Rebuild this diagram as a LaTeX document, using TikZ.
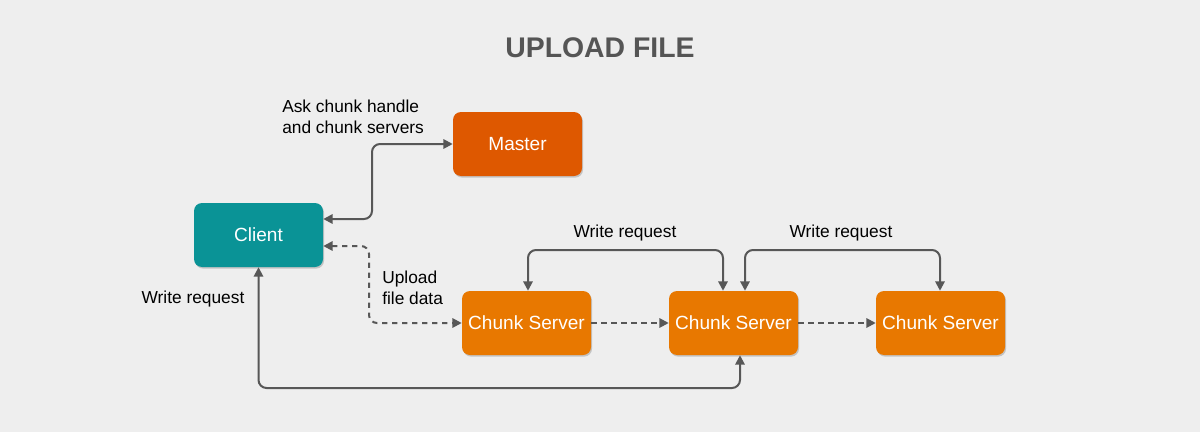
\documentclass[tikz,border=0pt]{standalone}
\usepackage{fontspec}
\setmainfont{Liberation Sans}
\usetikzlibrary{arrows.meta,shadows,positioning}
\definecolor{bg}{HTML}{EEEEEE}
\definecolor{linec}{HTML}{575757}
\definecolor{titlec}{HTML}{555555}
\definecolor{masterc}{HTML}{DE5800}
\definecolor{chunkc}{HTML}{E87800}
\definecolor{clientc}{HTML}{0A9396}
\tikzset{
  box/.style={rounded corners=6pt, minimum width=96.75pt, minimum height=48pt, text=white, font=\fontsize{14.3}{16}\selectfont, inner sep=0pt,
    drop shadow={shadow xshift=0.8pt, shadow yshift=-1.2pt, opacity=0.18, fill=black}},
  conn/.style={draw=linec, line width=1.5pt, rounded corners=6pt, -{Triangle[length=7pt,width=7pt]}},
  both/.style={conn, {Triangle[length=7pt,width=7pt]}-{Triangle[length=7pt,width=7pt]}},
  dconn/.style={conn, dash pattern=on 4pt off 3.5pt},
  lbl/.style={font=\fontsize{13}{15.5}\selectfont, text=black, inner sep=0pt},
}
\begin{document}
\begin{tikzpicture}[x=0.75pt,y=-0.75pt]
\fill[bg] (0,0) rectangle (1200,432);
\useasboundingbox (0,0) rectangle (1200,432);
\node[font=\fontsize{21.3}{24}\selectfont\bfseries, text=titlec] (title) at (600,48) {UPLOAD FILE};
\node[box, fill=masterc] (master) at (517.5,144) {Master};
\node[box, fill=clientc] (client) at (258.5,235) {Client};
\node[box, fill=chunkc] (cs1) at (526.5,323) {Chunk Server};
\node[box, fill=chunkc] (cs2) at (733.5,323) {Chunk Server};
\node[box, fill=chunkc] (cs3) at (940.5,323) {Chunk Server};
% client <-> master
\draw[both] (client.east |- 0,219) -| (372,181) |- (master.west);
% upload file data
\draw[dconn, {Triangle[length=7pt,width=7pt]}-{Triangle[length=7pt,width=7pt]}] (client.east |- 0,246) -| (369,290) |- (cs1.west);
% write request client <-> cs2
\draw[both] (client.south) |- (500,388) -| (cs2.south -| 740,0);
% chain
\draw[dconn] (cs1.east) -- (cs2.west);
\draw[dconn] (cs2.east) -- (cs3.west);
% top loops
\draw[both] (cs1.north -| 528,0) |- (625,250) -| (cs2.north -| 723,0);
\draw[both] (cs2.north -| 745,0) |- (840,250) -| (cs3.north -| 940,0);
% labels
\node[lbl, align=left, anchor=west] (l1) at (282,116.5) {Ask chunk handle\\and chunk servers};
\node[lbl, align=left, anchor=west] (l2) at (382,288) {Upload\\file data};
\node[lbl] (l3) at (193,299) {Write request};
\node[lbl] (l4) at (625,233) {Write request};
\node[lbl] (l5) at (841,233) {Write request};
\end{tikzpicture}
\end{document}
